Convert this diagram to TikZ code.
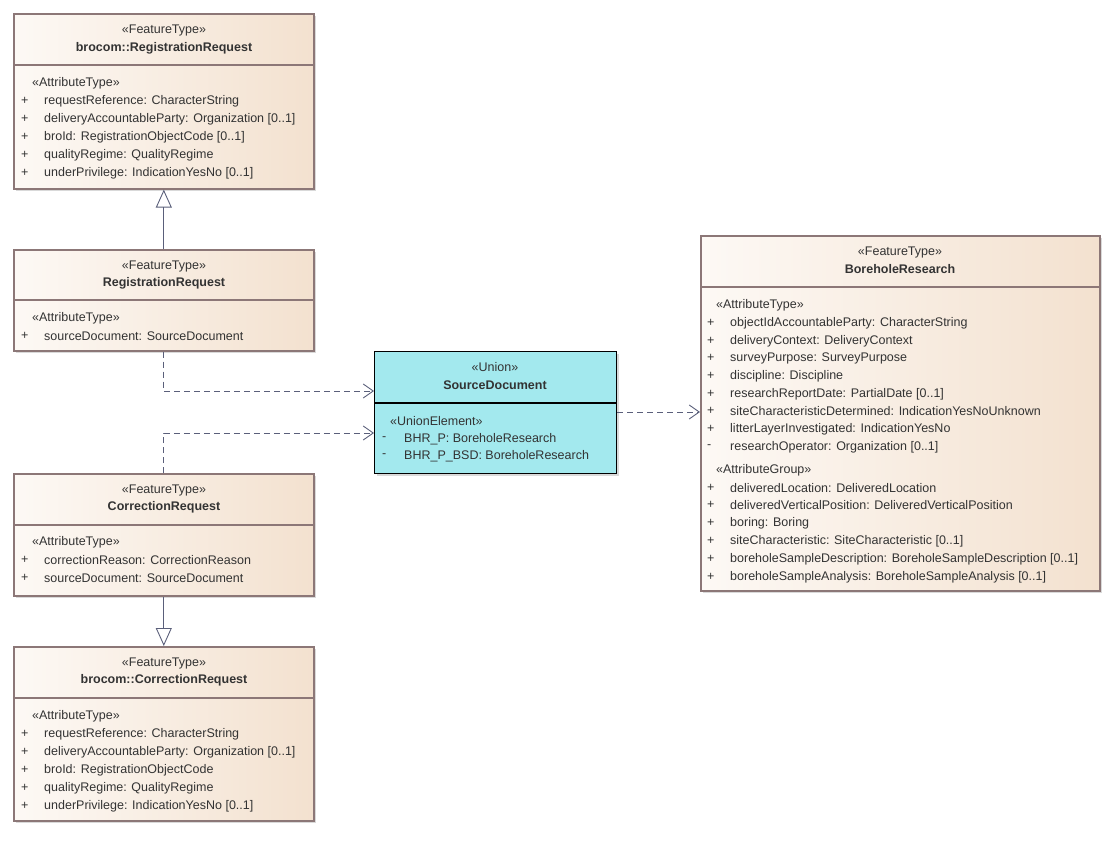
\documentclass[tikz,border=0pt]{standalone}
\usepackage{fontspec}
\setmainfont{Liberation Sans}
\usetikzlibrary{arrows.meta,shadows}
\begin{document}
\begin{tikzpicture}[x=1pt,y=-1pt,
  box/.style={draw=boxline,line width=1.6pt,left color=peachL,right color=peachR,drop shadow={shadow xshift=2pt,shadow yshift=-2pt,fill=black!25,opacity=0.6}},
  ubox/.style={draw=black,line width=1.2pt,fill=teal1,drop shadow={shadow xshift=2pt,shadow yshift=-2pt,fill=black!25,opacity=0.6}},
  t/.style={anchor=west,inner sep=0pt,font=\fontsize{12.5}{13}\selectfont,text=txt},
  c/.style={anchor=center,inner sep=0pt,font=\fontsize{12.5}{13}\selectfont,text=txt},
  b/.style={c,font=\fontsize{12.5}{13}\selectfont\bfseries},
  gen/.style={draw=lineC,line width=0.9pt,-{Triangle[open,length=18pt,width=16pt]}},
  dep/.style={draw=lineC,line width=0.9pt,dash pattern=on 6pt off 4pt,-{Straight Barb[length=10pt,width=14pt]}}]
\definecolor{peachL}{HTML}{FDF9F5}
\definecolor{peachR}{HTML}{F3E1CF}
\definecolor{boxline}{HTML}{8C7777}
\definecolor{teal1}{HTML}{A3E9EE}
\definecolor{txt}{HTML}{333333}
\definecolor{lineC}{HTML}{5A5F7A}
\useasboundingbox (0,0) rectangle (1116,864);

% brocom::RegistrationRequest
\node[box,anchor=north west,minimum width=300pt,minimum height=175pt,inner sep=0pt] (rr0) at (13,13) {};
\draw[boxline,line width=1.2pt] (13,65) -- (313,65);
\node[c] (rr0s) at (164,30) {«FeatureType»};
\node[b] (rr0n) at (164,48) {brocom::RegistrationRequest};
\node[t] (rr0a) at (32,83) {«AttributeType»};
\foreach \y/\s in {101/requestReference: CharacterString,119/deliveryAccountableParty: Organization [0..1],137/broId: RegistrationObjectCode [0..1],155/qualityRegime: QualityRegime,173/underPrivilege: IndicationYesNo [0..1]}{
  \node[t] at (21,\y) {+}; \node[t] at (44,\y) {\s};}

% RegistrationRequest
\node[box,anchor=north west,minimum width=300pt,minimum height=101pt,inner sep=0pt] (rr) at (13,249) {};
\draw[boxline,line width=1.2pt] (13,300) -- (313,300);
\node[c] (rrs) at (164,266) {«FeatureType»};
\node[b] (rrn) at (164,283) {RegistrationRequest};
\node[t] (rra) at (32,318) {«AttributeType»};
\node[t] at (21,336) {+}; \node[t] at (44,336) {sourceDocument: SourceDocument};

% SourceDocument
\node[ubox,anchor=north west,minimum width=242pt,minimum height=122pt,inner sep=0pt] (sd) at (374,351) {};
\draw[black,line width=1.2pt] (374,403) -- (616,403);
\node[c] (sds) at (495,367) {«Union»};
\node[b] (sdn) at (495,385) {SourceDocument};
\node[t] (sda) at (390,421) {«UnionElement»};
\node[t] at (382,439) {-}; \node[t] at (404,439) {BHR\_P: BoreholeResearch};
\node[t] at (382,456) {-}; \node[t] at (404,456) {BHR\_P\_BSD: BoreholeResearch};

% CorrectionRequest
\node[box,anchor=north west,minimum width=300pt,minimum height=122pt,inner sep=0pt] (cr) at (13,473) {};
\draw[boxline,line width=1.2pt] (13,525) -- (313,525);
\node[c] (crs) at (164,490) {«FeatureType»};
\node[b] (crn) at (164,507) {CorrectionRequest};
\node[t] (cra) at (32,542) {«AttributeType»};
\node[t] at (21,560) {+}; \node[t] at (44,560) {correctionReason: CorrectionReason};
\node[t] at (21,578) {+}; \node[t] at (44,578) {sourceDocument: SourceDocument};

% brocom::CorrectionRequest
\node[box,anchor=north west,minimum width=300pt,minimum height=174pt,inner sep=0pt] (cr0) at (13,646) {};
\draw[boxline,line width=1.2pt] (13,698) -- (313,698);
\node[c] (cr0s) at (164,663) {«FeatureType»};
\node[b] (cr0n) at (164,680) {brocom::CorrectionRequest};
\node[t] (cr0a) at (32,716) {«AttributeType»};
\foreach \y/\s in {734/requestReference: CharacterString,752/deliveryAccountableParty: Organization [0..1],770/broId: RegistrationObjectCode,788/qualityRegime: QualityRegime,806/underPrivilege: IndicationYesNo [0..1]}{
  \node[t] at (21,\y) {+}; \node[t] at (44,\y) {\s};}

% BoreholeResearch
\node[box,anchor=north west,minimum width=399pt,minimum height=355pt,inner sep=0pt] (br) at (700,235) {};
\draw[boxline,line width=1.2pt] (700,287) -- (1099,287);
\node[c] (brs) at (900,252) {«FeatureType»};
\node[b] (brn) at (900,269) {BoreholeResearch};
\node[t] (bra) at (716,305) {«AttributeType»};
\foreach \y/\m/\s in {323/+/objectIdAccountableParty: CharacterString,341/+/deliveryContext: DeliveryContext,358/+/surveyPurpose: SurveyPurpose,376/+/discipline: Discipline,394/+/researchReportDate: PartialDate [0..1],411/+/siteCharacteristicDetermined: IndicationYesNoUnknown,429/+/litterLayerInvestigated: IndicationYesNo,447/-/researchOperator: Organization [0..1]}{
  \node[t] at (707,\y) {\m}; \node[t] at (730,\y) {\s};}
\node[t] (brg) at (716,470) {«AttributeGroup»};
\foreach \y/\s in {488/deliveredLocation: DeliveredLocation,505/deliveredVerticalPosition: DeliveredVerticalPosition,523/boring: Boring,541/siteCharacteristic: SiteCharacteristic [0..1],559/boreholeSampleDescription: BoreholeSampleDescription [0..1],577/boreholeSampleAnalysis: BoreholeSampleAnalysis [0..1]}{
  \node[t] at (707,\y) {+}; \node[t] at (730,\y) {\s};}

% connectors
\draw[gen] (rr.north) -- (rr0.south);
\draw[gen] (cr.south) -- (cr0.north);
\draw[dep] (rr.south) |- (sd.west |- 0,391);
\draw[dep] (cr.north) |- (sd.west |- 0,433);
\draw[dep] (sd.east |- 0,412) -- (br.west |- 0,412);
\end{tikzpicture}
\end{document}
